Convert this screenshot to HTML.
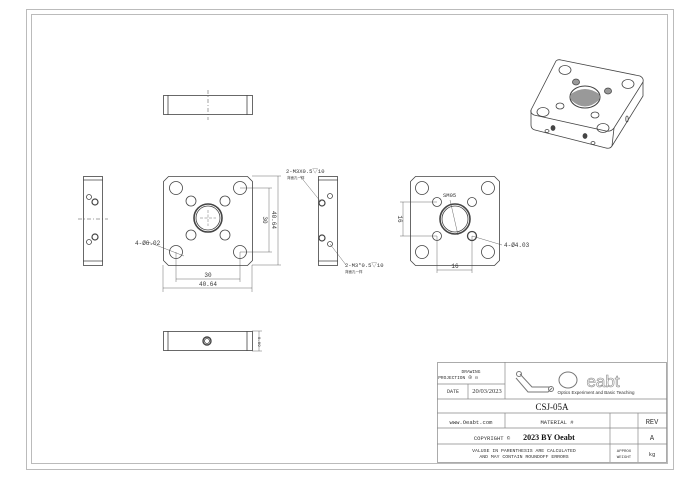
<!DOCTYPE html>
<html><head><meta charset="utf-8"><style>
html,body{margin:0;padding:0;background:#fff;width:700px;height:478px;overflow:hidden}
svg{display:block}
text{font-family:"Liberation Mono","Noto Sans CJK SC",monospace;fill:#333}
</style></head><body>
<svg width="700" height="478" viewBox="0 0 700 478" xmlns="http://www.w3.org/2000/svg">
<g fill="none" stroke="#bbb" stroke-width="1">
<rect x="26.5" y="9.5" width="647" height="460"/>
<rect x="31.5" y="14.5" width="636" height="449"/>
</g>
<g fill="none" stroke="#444" stroke-width="0.8">
<rect x="163.5" y="95.5" width="89" height="19"/>
<line x1="168" y1="95" x2="168" y2="115"/><line x1="247" y1="95" x2="247" y2="115"/>
<line x1="208" y1="90" x2="208" y2="120" stroke-dasharray="4 2 1 2" stroke-width="0.5"/>
<rect x="163.5" y="331.5" width="89" height="19"/>
<line x1="168" y1="331" x2="168" y2="351"/><line x1="247" y1="331" x2="247" y2="351"/>
<circle cx="207" cy="341" r="4" stroke-width="1.4"/><circle cx="207" cy="341" r="2.5"/>
<line x1="252" y1="331" x2="262" y2="331" stroke-width="0.4"/><line x1="252" y1="351" x2="262" y2="351" stroke-width="0.4"/>
<line x1="259" y1="331" x2="259" y2="351" stroke-width="0.4"/>
<rect x="83.5" y="176.5" width="19" height="89"/>
<line x1="83" y1="180" x2="103" y2="180"/><line x1="83" y1="261" x2="103" y2="261"/>
<circle cx="89" cy="197" r="2.5"/><circle cx="95" cy="202" r="3" stroke-width="1.2"/>
<circle cx="95" cy="237" r="3" stroke-width="1.2"/><circle cx="89" cy="242" r="2.5"/>
<line x1="78" y1="219" x2="108" y2="219" stroke-dasharray="4 2 1 2" stroke-width="0.5"/>
<path d="M168.5 176.5 H247.5 L252.5 181.5 V260.5 L247.5 265.5 H168.5 L163.5 260.5 V181.5 Z"/>
<circle cx="176" cy="188" r="6.5"/><circle cx="240" cy="188" r="6.5"/>
<circle cx="176" cy="252" r="6.5"/><circle cx="240" cy="252" r="6.5"/>
<circle cx="191" cy="201" r="5"/><circle cx="225" cy="201" r="5"/>
<circle cx="191" cy="235" r="5"/><circle cx="225" cy="235" r="5"/>
<circle cx="208" cy="218" r="14" stroke-width="1.6"/><circle cx="208" cy="218" r="12"/>
<g stroke-width="0.4" stroke-dasharray="3 1.5">
<line x1="200" y1="218" x2="216" y2="218"/><line x1="208" y1="210" x2="208" y2="226"/>
</g>
<g stroke-width="0.4">
<line x1="240" y1="188" x2="272" y2="188"/><line x1="240" y1="252" x2="272" y2="252"/>
<line x1="269" y1="188" x2="269" y2="252"/>
<line x1="252" y1="176" x2="281" y2="176"/><line x1="252" y1="265" x2="281" y2="265"/>
<line x1="278" y1="176" x2="278" y2="265"/>
<line x1="176" y1="252" x2="176" y2="282"/><line x1="240" y1="252" x2="240" y2="282"/>
<line x1="176" y1="279" x2="240" y2="279"/>
<line x1="163" y1="265" x2="163" y2="292"/><line x1="252" y1="265" x2="252" y2="292"/>
<line x1="163" y1="288" x2="252" y2="288"/>
<line x1="148" y1="242" x2="184" y2="256"/>
</g>
<rect x="318.5" y="176.5" width="19" height="89"/>
<line x1="318" y1="180" x2="338" y2="180"/><line x1="318" y1="261" x2="338" y2="261"/>
<circle cx="322" cy="203" r="3" stroke-width="1.2"/><circle cx="330" cy="196" r="2.5"/>
<circle cx="322" cy="238" r="3" stroke-width="1.2"/><circle cx="330" cy="244" r="2.5"/>
<g stroke-width="0.4"><line x1="300" y1="176" x2="321" y2="202"/><line x1="330" y1="244" x2="346" y2="265"/></g>
<path d="M415.5 176.5 H494.5 L499.5 181.5 V260.5 L494.5 265.5 H415.5 L410.5 260.5 V181.5 Z"/>
<circle cx="422" cy="188" r="6.5"/><circle cx="488" cy="188" r="6.5"/>
<circle cx="422" cy="252" r="6.5"/><circle cx="488" cy="252" r="6.5"/>
<circle cx="437" cy="202" r="4.5"/><circle cx="472" cy="202" r="4.5"/>
<circle cx="437" cy="236" r="4.5"/><circle cx="472" cy="236" r="4.5" stroke-width="1.3"/>
<circle cx="455" cy="219" r="15" stroke-width="1.6"/><circle cx="455" cy="219" r="13"/>
<g stroke-width="0.4">
<line x1="400" y1="202" x2="437" y2="202"/><line x1="400" y1="236" x2="437" y2="236"/>
<line x1="403" y1="202" x2="403" y2="236"/>
<line x1="437" y1="236" x2="437" y2="273"/><line x1="472" y1="236" x2="472" y2="273"/>
<line x1="437" y1="270" x2="472" y2="270"/>
<line x1="472" y1="236" x2="502" y2="245"/>
<line x1="450" y1="200" x2="458" y2="235"/>
</g>
</g>
<g font-size="6">
<text x="135" y="245">4-Ø6.02</text>
<text x="208" y="277" text-anchor="middle">30</text>
<text x="208" y="286" text-anchor="middle">40.64</text>
<text x="263" y="220" transform="rotate(90 263 220)" text-anchor="middle">30</text>
<text x="272" y="220" transform="rotate(90 272 220)" text-anchor="middle">40.64</text>
<text x="286" y="173" font-size="5.5">2-M3X0.5▽10</text>
<text x="287" y="179" font-size="3.5">背面孔一样</text>
<text x="345" y="267" font-size="5.5">2-M3*0.5▽10</text>
<text x="345" y="273" font-size="3.5">背面孔一样</text>
<text x="443" y="197" font-size="5.5">SM05</text>
<text x="504" y="247">4-Ø4.03</text>
<text x="455" y="268" text-anchor="middle">16</text>
<text x="398" y="219" transform="rotate(90 398 219)" text-anchor="middle">16</text>
<text x="254" y="341" font-size="4" transform="rotate(90 258 341)">8.89</text>
</g>
<!-- isometric view -->
<g fill="none" stroke="#444" stroke-width="0.8">
<path d="M556 61 Q558 59 561 60 L640 76 Q644 78 643 82 L614 128 Q611 132 606 131 L534 115 Q530 113 531 110 Z"/>
<path d="M531 110 L531 125 Q531 129 535 130 L606 148 Q610 149 612 146 L643 96 L643 82"/>
<path d="M614 128 L612 146"/>
<ellipse cx="565" cy="70" rx="6" ry="4.5"/><ellipse cx="628" cy="84" rx="6" ry="4.5"/>
<ellipse cx="543" cy="112" rx="6" ry="4.5"/><ellipse cx="603" cy="128" rx="6" ry="4.5"/>
<ellipse cx="585" cy="97" rx="15" ry="11" stroke-width="1.1"/>
<path d="M571 100 Q585 113 599 100 L599 94 Q585 84 571 94 Z" fill="#999" stroke="none"/>
<ellipse cx="576" cy="82" rx="3.5" ry="3" fill="#999"/><ellipse cx="608" cy="91" rx="3.5" ry="3" fill="#999"/>
<ellipse cx="560" cy="106" rx="4" ry="3"/><ellipse cx="595" cy="115" rx="4" ry="3"/>
<ellipse cx="553" cy="128" rx="2" ry="2.5" fill="#444"/><ellipse cx="585" cy="136" rx="2" ry="2.5" fill="#444"/>
<ellipse cx="547" cy="131" rx="2" ry="1.5"/><ellipse cx="593" cy="143" rx="2" ry="1.5"/>
<ellipse cx="627" cy="119" rx="1.2" ry="3"/>
</g>
<!-- title block -->
<g fill="none" stroke="#888" stroke-width="0.7">
<rect x="437.5" y="362.5" width="229" height="100"/>
<line x1="437" y1="384" x2="505" y2="384"/>
<line x1="437" y1="399" x2="667" y2="399"/>
<line x1="437" y1="413" x2="667" y2="413"/>
<line x1="437" y1="428" x2="667" y2="428"/>
<line x1="437" y1="444" x2="667" y2="444"/>
<line x1="505" y1="362" x2="505" y2="399"/>
<line x1="468" y1="384" x2="468" y2="399"/>
<line x1="505" y1="413" x2="505" y2="428"/>
<line x1="610" y1="413" x2="610" y2="462"/>
<line x1="638" y1="413" x2="638" y2="462"/>
</g>
<g fill="none" stroke="#777" stroke-width="1">
<path d="M516 378 L528 392 L548 392 L552 388"/><path d="M520 374 L532 387 L550 387"/>
<circle cx="519" cy="374" r="2.5"/><circle cx="551" cy="389" r="2.5"/>
<ellipse cx="568" cy="380" rx="9" ry="8"/>
</g>
<g font-size="5" text-anchor="middle">
<text x="471" y="373" font-size="4.5">DRAWING</text>
<text x="458" y="379" font-size="4.5">PROJECTION ⊕ ⊟</text>
<text x="453" y="393">DATE</text>
<text x="487" y="393" style="font-family:'Liberation Serif',serif" font-size="6.5">20/03/2023</text>
<text x="603" y="387" font-size="17" style="font-family:'Liberation Sans',sans-serif;fill:none;stroke:#888;stroke-width:0.6">eabt</text>
<text x="596" y="394" font-size="4.5" style="font-family:'Liberation Sans',sans-serif">Optics Experiment and Basic Teaching</text>
<text x="552" y="410" font-size="9" style="font-family:'Liberation Serif',serif;fill:#111">CSJ-05A</text>
<text x="471" y="424" font-size="5.5">www.Oeabt.com</text>
<text x="557" y="424" font-size="5.5">MATERIAL #</text>
<text x="652" y="424" font-size="7">REV</text>
<text x="492" y="440" font-size="5.5">COPYRIGHT ©</text>
<text x="549" y="440" font-size="8" style="font-family:'Liberation Serif',serif;font-weight:bold;fill:#111">2023 BY Oeabt</text>
<text x="652" y="440" font-size="7">A</text>
<text x="524" y="452" font-size="4.8">VALUSE IN PARENTHESIS ARE CALCULATED</text>
<text x="524" y="458" font-size="4.8">AND MAY CONTAIN ROUNDOFF ERRORS</text>
<text x="624" y="452" font-size="4">APPROX</text>
<text x="624" y="458" font-size="4">WEIGHT</text>
<text x="652" y="456" font-size="5.5">kg</text>
</g>
</svg>
</body></html>
